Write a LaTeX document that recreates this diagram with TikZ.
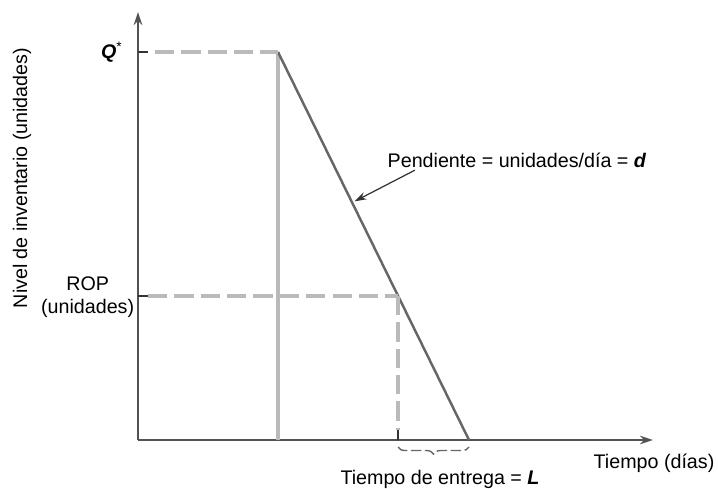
\documentclass[tikz,border=0pt]{standalone}
\usepackage{fontspec}
\setmainfont{Liberation Sans}
\usepackage{tikz}
\usetikzlibrary{arrows.meta,calc,positioning,decorations.pathreplacing}
\usepackage{xcolor}
\newcommand{\XMax}{10.3}
\newcommand{\YMax}{8.56}
\newcommand{\QY}{7.76}
\newcommand{\XPeak}{2.8}
\newcommand{\XZero}{6.62}
\newcommand{\ROPY}{2.88}
\newcommand{\XROP}{5.2}
\newcommand{\TickLen}{0.2}
\colorlet{axisColor}{black!68}
\colorlet{guideColor}{black!27}
\colorlet{slopeColor}{black!60}

\begin{document}
\begin{tikzpicture}[
  >=Stealth,
  font=\fontsize{11.2}{13.2}\selectfont,
  axis/.style    = {axisColor, line width=0.9pt},
  tick/.style    = {black!80, line width=0.7pt},
  guide/.style   = {guideColor, line width=2pt, dash pattern=on 11pt off 4pt},
  restock/.style = {guideColor, line width=2.3pt},
  slope/.style   = {slopeColor, line width=1.4pt},
  lbl/.style     = {inner sep=0pt},
]
\useasboundingbox (-2.76,-0.96) rectangle (11.6,8.8);

% ----------------------------------------------------------------
% Axes
% ----------------------------------------------------------------
\coordinate (O) at (0,0);
\coordinate (ytop) at (0,\YMax);
\coordinate (xend) at (\XMax,0);
\draw[axis, -{Stealth[length=2.6mm,width=1.7mm]}] (O) -- (ytop);
\draw[axis, -{Stealth[length=2.6mm,width=1.7mm]}] (O) -- (xend);

% ----------------------------------------------------------------
% Inventory profile
% ----------------------------------------------------------------
\coordinate (peak) at (\XPeak,\QY);
\coordinate (base) at (\XPeak,0);
\coordinate (empty) at (\XZero,0);
\coordinate (rop) at (\XROP,\ROPY);
\coordinate (ropbase) at (\XROP,0);
\coordinate (qtick) at (0,\QY);
\coordinate (roptick) at (0,\ROPY);

\draw[restock] (base) -- (peak);
\draw[slope] (peak) -- coordinate[pos=0.385] (slopept) (empty);

% guide lines
\draw[tick] (qtick) -- ++(\TickLen,0);
\draw[guide] ($(qtick)+(0.34,0)$) -- (peak);
\draw[tick] (roptick) -- ++(\TickLen,0);
\draw[guide] ($(roptick)+(0.2,0)$) -- (rop);
\draw[guide] (rop) -- ($(ropbase)+(0,0.2)$);
\draw[tick] (ropbase) -- ++(0,\TickLen);

% lead time brace
\draw[black!60, line width=0.8pt, dash pattern=on 6pt off 2pt,
      decorate, decoration={brace, mirror, amplitude=4pt}]
  ($(ropbase)+(0,-0.14)$) -- ($(empty)+(0,-0.14)$);

% ----------------------------------------------------------------
% Labels
% ----------------------------------------------------------------
\node[lbl, anchor=east] (qlbl) at (-0.3,\QY) {\textit{\textbf{Q}}\textsuperscript{*}};
\node[lbl, anchor=east, align=center] (roplbl) at (-0.07,2.86)
  {ROP\\(unidades)};
\node[lbl, rotate=90] (ylbl) at (-2.32,5.24)
  {Nivel de inventario (unidades)};
\node[lbl] (xlbl) at (10.32,-0.46) {Tiempo (días)};
\node[lbl] (leadlbl) at (6.04,-0.78) {Tiempo de entrega = \textit{\textbf{L}}};
\node[lbl] (slopelbl) at (7.58,5.6)
  {Pendiente = unidades/día = \textit{\textbf{d}}};

\draw[black!80, line width=0.7pt, -{Stealth[length=2.4mm,width=1.5mm]}]
  ($(slopelbl.south west)+(0.55,-0.05)$) -- ($(slopept)+(0.06,0)$);

\end{tikzpicture}
\end{document}
